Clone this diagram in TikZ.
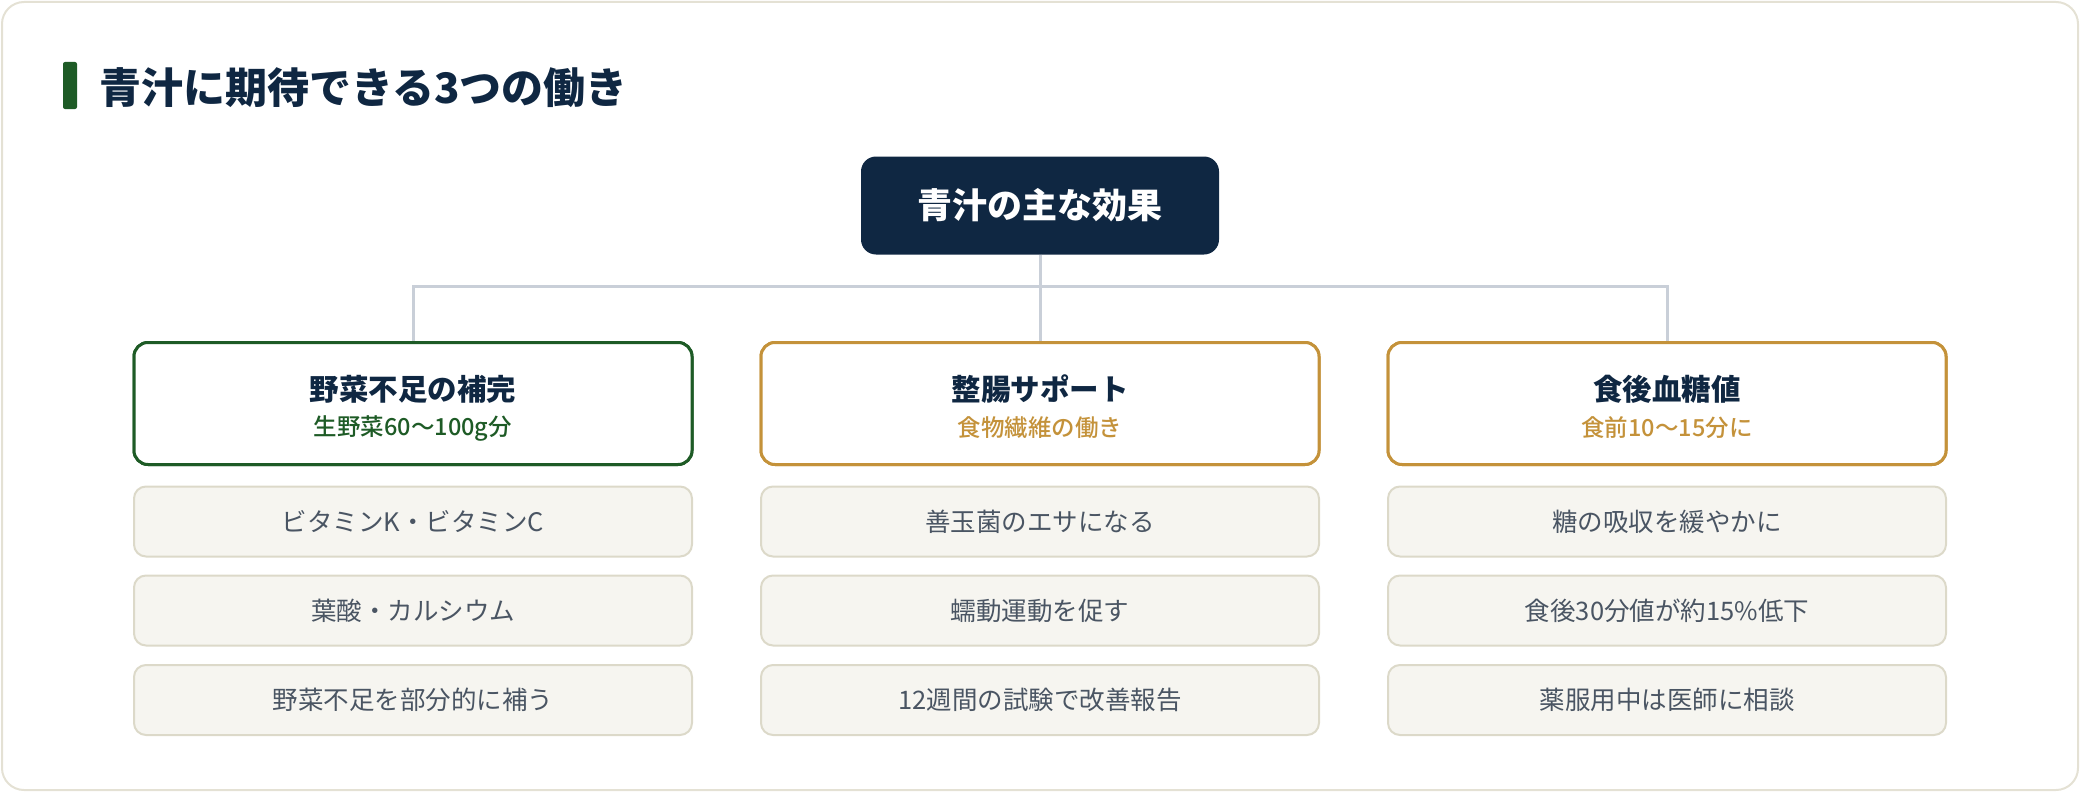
\documentclass[tikz,border=0pt]{standalone}
\usepackage{fontspec}
\newfontfamily\cjk{Noto Sans CJK JP}
\newfontfamily\cjkmed{Noto Sans CJK JP Medium}
\definecolor{navy}{HTML}{0F2742}
\definecolor{leaf}{HTML}{1E5B26}
\definecolor{gold}{HTML}{C4923A}
\definecolor{wire}{HTML}{C9CFD8}
\definecolor{itemfill}{HTML}{F6F5F0}
\definecolor{itemline}{HTML}{DCD9C9}
\definecolor{itemtext}{HTML}{4A5563}
\definecolor{frame}{HTML}{E4E1D4}
\tikzset{
  topbox/.style={draw=none, fill=navy, rounded corners=15pt, minimum width=358pt, minimum height=98pt, inner sep=0pt, text=white, font=\cjk\bfseries\fontsize{35}{40}\selectfont},
  catbox/.style={draw=#1, line width=3pt, fill=white, rounded corners=14pt, minimum width=558pt, minimum height=122pt, inner sep=0pt},
  cattitle/.style={text=navy, font=\cjk\bfseries\fontsize{29.5}{34}\selectfont, inner sep=0pt},
  catsub/.style={text=#1, font=\cjkmed\fontsize{23.5}{28}\selectfont, inner sep=0pt},
  itembox/.style={draw=itemline, line width=2pt, fill=itemfill, rounded corners=12pt, minimum width=558pt, minimum height=70pt, inner sep=0pt, text=itemtext, font=\cjk\fontsize{25.5}{30}\selectfont},
  wireline/.style={draw=wire, line width=3pt},
}
\begin{document}
\begin{tikzpicture}[x=1pt,y=-1pt]
\useasboundingbox (0,0) rectangle (2080,792);
\draw[frame, line width=2pt, rounded corners=22pt] (2,2) rectangle (2078,790);
% title
\fill[leaf, rounded corners=2pt] (63,62) rectangle (77,109);
\node[anchor=west, inner sep=0pt, text=navy, font=\cjk\bfseries\fontsize{42}{48}\selectfont] (title) at (99,88) {青汁に期待できる3つの働き};
% top node
\node[topbox] (top) at (1040,205.5) {青汁の主な効果};
\coordinate (hub) at (1040,286);
% category boxes
\node[catbox=leaf] (c1) at (413,403.5) {};
\node[catbox=gold] (c2) at (1040,403.5) {};
\node[catbox=gold] (c3) at (1667,403.5) {};
% connectors
\draw[wireline] (top.south) -- (hub);
\draw[wireline] (c1.north) |- (hub) -| (c3.north);
\draw[wireline] (hub) -- (c2.north);
\node[catbox=leaf] at (c1) {};
\node[catbox=gold] at (c2) {};
\node[catbox=gold] at (c3) {};
% category texts
\node[cattitle] (t1) at (413,389) {野菜不足の補完};
\node[catsub=leaf] (s1) at (413,428) {生野菜60〜100g分};
\node[cattitle] (t2) at (1040,389) {整腸サポート};
\node[catsub=gold] (s2) at (1040,428) {食物繊維の働き};
\node[cattitle] (t3) at (1667,389) {食後血糖値};
\node[catsub=gold] (s3) at (1667,428) {食前10〜15分に};
% items
\node[itembox] (a1) at (413,521.5) {ビタミンK・ビタミンC};
\node[itembox] (a2) at (413,610.5) {葉酸・カルシウム};
\node[itembox] (a3) at (413,700) {野菜不足を部分的に補う};
\node[itembox] (b1) at (1040,521.5) {善玉菌のエサになる};
\node[itembox] (b2) at (1040,610.5) {蠕動運動を促す};
\node[itembox] (b3) at (1040,700) {12週間の試験で改善報告};
\node[itembox] (d1) at (1667,521.5) {糖の吸収を緩やかに};
\node[itembox] (d2) at (1667,610.5) {食後30分値が約15\%低下};
\node[itembox] (d3) at (1667,700) {薬服用中は医師に相談};
\end{tikzpicture}
\end{document}
